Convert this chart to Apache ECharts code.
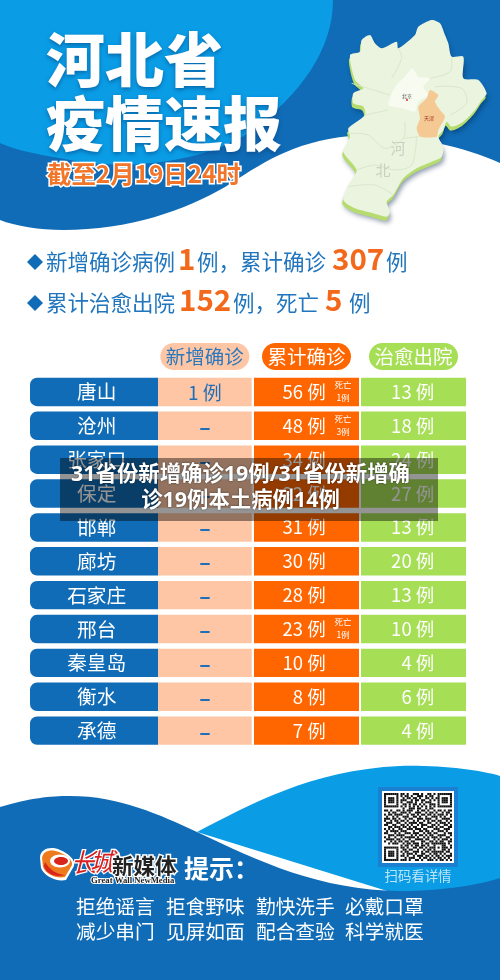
<!DOCTYPE html>
<html>
<head>
<meta charset="utf-8">
<style>
  html, body { margin: 0; padding: 0; background: #fff; }
  #chartArea { width: 500px; height: 980px; }
</style>
<script src="https://cdn.jsdelivr.net/npm/echarts@6/dist/echarts.min.js"></script>
</head>
<body>
<div id="chartArea"></div>
<script>
// table data
const cities = ['唐山', '沧州', '张家口', '保定', '邯郸', '廊坊', '石家庄', '邢台', '秦皇岛', '衡水', '承德'];
const newCases = [1, null, null, null, null, null, null, null, null, null, null];
const totalCases = [56, 48, 34, 32, 31, 30, 28, 23, 10, 8, 7];
const deaths = [1, 3, null, null, null, null, null, 1, null, null, null];
const curedCases = [13, 18, 24, 27, 13, 20, 13, 10, 4, 6, 4];
const columnNames = ['新增确诊', '累计确诊', '治愈出院'];

// summary numbers
const sumNew = 1;
const sumTotal = 307;
const sumCured = 152;
const sumDeaths = 5;

const bannerLines = ['31省份新增确诊19例/31省份新增确', '诊19例本土病例14例'];
const adviceRows = [
  ['拒绝谣言', '拒食野味', '勤快洗手', '必戴口罩'],
  ['减少串门', '见屏如面', '配合查验', '科学就医']
];

// QR code look, typed by eye from the picture
const qrRows = [
  '111111101101001110100110101111111',
  '100000101011010011101011001000001',
  '101110100101101101001101011011101',
  '101110101110010110110010101011101',
  '101110101001110100101110001011101',
  '100000100110101101010011101000001',
  '111111101010101010101010101111111',
  '000000000100111011001011000000000',
  '110100110101110010110100101101011',
  '001011001110100111001011010010110',
  '101101111001011010110110101110101',
  '010010100111001101001001110101001',
  '111011010010110011101110010011110',
  '100101101101001010010101101100101',
  '011100110010111101100110010111010',
  '110011001101010010111001101001101',
  '001101110110101100100111010110011',
  '101010011001110111011000111001110',
  '010111101110001001101101001110100',
  '110001010011101110010110110001011',
  '001110111100010101101011001111001',
  '101001001011111010010101110100110',
  '011110110100100111101100101011101',
  '100101011011011000110011010110011',
  '001011100101101110101101111111010',
  '000000001011010110110100100011001',
  '111111101101001101101011101011101',
  '100000100110110010010110100011010',
  '101110101011001110101101111110110',
  '101110100101110100110010110101001',
  '101110101101001011101101011010111',
  '100000100010111001011010101101010',
  '111111101110100110100111010110101'
];

const CJK = '"Noto Sans CJK SC", "Noto Sans", sans-serif';
const BLUE = '#106CB6';
const SKY = '#0A9DE6';
const ORANGE = '#FF6600';
const PEACH = '#FEC6A4';
const GREEN = '#A6DE55';

// map outline points come from a 3x crop, so convert them back
function mapPts(list) {
  return list.map(p => [335 + p[0] / 3, 15 + p[1] / 3]);
}
const mapOutline = mapPts([[290,15],[315,25],[330,60],[340,85],[350,125],[385,125],[385,190],[430,195],[455,235],[440,255],[420,285],[385,320],[350,335],[335,320],[325,345],[310,365],[325,395],[320,425],[290,440],[245,460],[205,490],[175,540],[155,560],[165,590],[155,605],[115,595],[60,580],[25,555],[40,510],[65,465],[25,410],[45,365],[40,340],[90,300],[85,275],[55,265],[55,235],[85,220],[60,195],[45,120],[75,110],[80,75],[105,60],[120,85],[140,100],[185,80],[190,100],[240,60],[250,35]]);
const beijingOutline = mapPts([[232,160],[250,185],[285,190],[265,215],[280,240],[250,260],[240,290],[200,280],[160,270],[170,235],[185,210],[205,190]]);
const tianjinOutline = mapPts([[285,225],[310,240],[300,260],[315,285],[330,305],[310,345],[305,365],[255,365],[245,340],[255,310],[250,275],[275,250]]);
const mapBorders = [
  [[190,100],[200,130],[170,190]],
  [[350,125],[345,170],[285,190]],
  [[300,215],[380,220],[395,265],[345,300]],
  [[50,205],[100,220],[165,240]],
  [[90,300],[160,285]],
  [[40,355],[100,360],[150,400],[205,370],[210,320]],
  [[205,370],[250,365]],
  [[65,465],[120,450],[180,465],[230,450],[245,365]],
  [[40,515],[120,510],[175,540]]
].map(mapPts);

// filled shape from a list of move/curve/line steps
echarts.graphic.registerShape('curveFill', echarts.graphic.extendShape({
  shape: { steps: [] },
  buildPath(ctx, shape) {
    shape.steps.forEach((s, i) => {
      if (i === 0) ctx.moveTo(s[0], s[1]);
      else if (s.length === 2) ctx.lineTo(s[0], s[1]);
      else ctx.bezierCurveTo(s[0], s[1], s[2], s[3], s[4], s[5]);
    });
    ctx.closePath();
  }
}));

function curve(steps, fill, z) {
  return { type: 'curveFill', shape: { steps: steps }, style: { fill: fill }, z: z || 0, silent: true };
}
function label(text, x, y, font, fill, extra) {
  return {
    type: 'text', z: 5, silent: true,
    style: Object.assign({ text: text, x: x, y: y, font: font, fill: fill, align: 'left', verticalAlign: 'middle' }, extra || {})
  };
}
function summaryWord(text, x, y) {
  return label(text, x, y, '21.5px ' + CJK, '#2176BD');
}
function summaryNum(text, x, y) {
  return label(String(text), x, y, 'bold 29.5px ' + CJK, '#F2691B');
}

const titleShadow = { textShadowColor: 'rgba(5,60,120,0.55)', textShadowBlur: 4, textShadowOffsetY: 2 };
const whiteHalo = { stroke: '#fff', strokeFirst: true };

const elements = [
  // header waves
  curve([[0,0],[500,0],[500,163],[460,145,400,132,350,136],[290,142,260,165,225,187],[185,210,130,230,63,230],[40,230,15,226,0,220]], BLUE),
  curve([[0,0],[333,0],[333,50,300,95,250,132],[200,165,120,170,70,160],[40,155,15,150,0,143]], SKY),
  // footer waves
  curve([[197,832],[250,805,310,770,400,766],[440,765,480,770,500,776],[500,885],[400,895]], SKY),
  curve([[0,807],[30,798,50,796,70,796],[120,796,160,815,197,832],[260,862,320,890,400,891],[440,891,480,885,500,878],[500,980],[0,980]], BLUE),

  // heading
  label('河北省', 46, 60, '900 59px ' + CJK, '#fff', titleShadow),
  label('疫情速报', 46, 124, '900 59px ' + CJK, '#fff', titleShadow),
  label('截至2月19日24时', 47, 174, 'bold 24.4px ' + CJK, '#F2762A', Object.assign({ lineWidth: 3 }, whiteHalo)),

  // Hebei map
  { type: 'polygon', z: 1, silent: true, shape: { points: mapOutline.map(p => [p[0] - 1, p[1] + 4]), smooth: 0.25 },
    style: { fill: '#B6DB6E', shadowBlur: 5, shadowColor: 'rgba(0,30,70,0.45)', shadowOffsetX: 2, shadowOffsetY: 2 } },
  { type: 'polygon', z: 1, silent: true, shape: { points: mapOutline, smooth: 0.25 }, style: { fill: '#EAF4DF' } }
];
mapBorders.forEach(line => {
  elements.push({ type: 'polyline', z: 1, silent: true, shape: { points: line, smooth: 0.3 }, style: { stroke: '#D9E8CB', lineWidth: 1, fill: null } });
});
elements.push(
  { type: 'polygon', z: 1, silent: true, shape: { points: beijingOutline, smooth: 0.15 }, style: { fill: '#F8FCF0' } },
  { type: 'polygon', z: 1, silent: true, shape: { points: tianjinOutline, smooth: 0.2 }, style: { fill: '#F4C993' } },
  label('北京', 407, 96, '5px ' + CJK, '#555', { align: 'center' }),
  { type: 'circle', z: 5, silent: true, shape: { cx: 407, cy: 100, r: 1 }, style: { fill: '#D8352A' } },
  label('天津', 429, 118, '5px ' + CJK, '#A8321E', { align: 'center' }),
  label('河', 398, 148, '15px ' + CJK, '#C9D2C0', { align: 'center' }),
  label('北', 383, 170, '15px ' + CJK, '#C9D2C0', { align: 'center' }),

  // summary lines
  { type: 'polygon', z: 5, silent: true, shape: { points: [[35,254],[43,262],[35,270],[27,262]] }, style: { fill: BLUE } },
  summaryWord('新增确诊病例', 46, 262),
  summaryNum(sumNew, 178, 259),
  summaryWord('例，', 197, 262),
  summaryWord('累计确诊', 240, 262),
  summaryNum(sumTotal, 332, 259),
  summaryWord('例', 386, 262),
  { type: 'polygon', z: 5, silent: true, shape: { points: [[35,295],[43,303],[35,311],[27,303]] }, style: { fill: BLUE } },
  summaryWord('累计治愈出院', 46, 303),
  summaryNum(sumCured, 179, 300),
  summaryWord('例，', 233, 303),
  summaryWord('死亡', 276, 303),
  summaryNum(sumDeaths, 325, 300),
  summaryWord('例', 349, 303),

  // QR block
  { type: 'rect', z: 3, silent: true, shape: { x: 378, y: 787, width: 80, height: 80 }, style: { fill: '#1C80D0' } },
  { type: 'rect', z: 3, silent: true, shape: { x: 382, y: 791, width: 72, height: 72 }, style: { fill: '#fff' } },
  label('扫码看详情', 418, 876, '13.4px ' + CJK, '#BDE5F8', { align: 'center' }),

  // logo swirl
  curve([[40,858],[40,848,52,846,60,850],[68,853,76,860,74,866],[66,880],[56,882,44,876,41,868]], '#fff', 4),
  curve([[42,858],[43,850,52,849,59,852],[66,855,73,860,72,865],[65,877],[56,879,46,874,43,867]], '#EE7A1E', 4),
  curve([[45,862],[50,870,56,874,65,875],[56,878,46,874,44,866]], '#D9261C', 4),
  { type: 'ellipse', z: 4, silent: true, shape: { cx: 60, cy: 861, rx: 10, ry: 6.5 }, style: { fill: '#fff' } },
  { type: 'ellipse', z: 4, silent: true, shape: { cx: 61, cy: 861, rx: 7, ry: 4 }, style: { fill: '#D9261C' } },
  label('长', 71, 862, 'italic 26px ' + CJK, '#D81E1E', Object.assign({ lineWidth: 2.5 }, whiteHalo)),
  label('城', 90, 861, 'italic 25px ' + CJK, '#D81E1E', Object.assign({ lineWidth: 2.5 }, whiteHalo)),
  label('新媒体', 112, 866, 'bold 21.5px ' + CJK, '#222', Object.assign({ lineWidth: 3 }, whiteHalo)),
  label('Great Wall NewMedia', 91, 881, 'bold 8.7px "Liberation Serif", serif', '#222', Object.assign({ lineWidth: 2 }, whiteHalo)),
  label('提示：', 184, 868, 'bold 25px ' + CJK, '#fff'),

  // banner over the table
  { type: 'rect', z: 50, silent: true, shape: { x: 60, y: 458, width: 378, height: 63 }, style: { fill: 'rgba(0,0,0,0.42)' } },
  label(bannerLines[0], 240.5, 475, 'bold 21.4px "Open Sans", ' + CJK, '#fff', { align: 'center', textShadowColor: 'rgba(0,0,0,0.6)', textShadowBlur: 2 }),
  label(bannerLines[1], 240.5, 501, 'bold 21.4px "Open Sans", ' + CJK, '#fff', { align: 'center', textShadowColor: 'rgba(0,0,0,0.6)', textShadowBlur: 2 })
);
elements[elements.length - 1].z = 51;
elements[elements.length - 2].z = 51;

// advice lines
const adviceX = [76, 166, 256, 345];
adviceRows.forEach((row, r) => {
  row.forEach((text, c) => {
    elements.push(label(text, adviceX[c], 907 + r * 25, '19.7px ' + CJK, '#fff'));
  });
});

// QR modules
qrRows.forEach((row, r) => {
  row.split('').forEach((bit, c) => {
    if (bit === '1') {
      elements.push({ type: 'rect', z: 4, silent: true, shape: { x: 384 + c * 2.06, y: 793 + r * 2.06, width: 2.06, height: 2.06 }, style: { fill: '#111' } });
    }
  });
});

// one table column: each column sits in its own grid so it can have its own width
function cellSeries(gridIndex, fill, radius, drawTexts) {
  return {
    type: 'custom',
    xAxisIndex: gridIndex,
    yAxisIndex: gridIndex,
    encode: { x: 0, y: 1 },
    data: cities.map((c, i) => [0, i]),
    z: 2,
    silent: true,
    renderItem(params, api) {
      const center = api.coord([0, api.value(1)]);
      const band = api.size([1, 1]);
      const h = 28.4;
      const left = center[0] - band[0] / 2;
      return {
        type: 'group',
        children: [{
          type: 'rect',
          shape: { x: left, y: center[1] - h / 2, width: band[0], height: h, r: radius },
          style: { fill: fill }
        }].concat(drawTexts(params.dataIndex, left, center[0], center[1]))
      };
    }
  };
}
function cellText(text, x, y, font, fill, align) {
  return { type: 'text', style: { text: text, x: x, y: y, font: font, fill: fill, align: align, verticalAlign: 'middle' } };
}

const rowFont = '18.5px ' + CJK;

const tableSeries = [
  cellSeries(0, BLUE, [7, 0, 0, 7], (i, left, cx, cy) => [
    cellText(cities[i], left + 66.7, cy, '19.7px ' + CJK, '#fff', 'center')
  ]),
  cellSeries(1, PEACH, 0, (i, left, cx, cy) => [
    newCases[i] === null
      ? cellText('–', cx, cy + 1, 'bold 21px ' + CJK, '#1E6FB8', 'center')
      : cellText(newCases[i] + ' 例', cx, cy + 1, '19px ' + CJK, '#1E6FB8', 'center')
  ]),
  cellSeries(2, ORANGE, 0, (i, left, cx, cy) => {
    const out = [cellText(totalCases[i] + ' 例', left + 71.7, cy, rowFont, '#fff', 'right')];
    if (deaths[i] !== null) {
      out.push(cellText('死亡', left + 89, cy - 7, '8.5px ' + CJK, '#fff', 'center'));
      out.push(cellText(deaths[i] + '例', left + 89, cy + 6, '8.5px ' + CJK, '#fff', 'center'));
    }
    return out;
  }),
  cellSeries(3, GREEN, 0, (i, left, cx, cy) => [
    cellText(curedCases[i] + ' 例', left + 73.3, cy, rowFont, '#fff', 'right')
  ])
];

const gridEdges = [[30, 128], [158, 93.7], [254, 105], [361, 105]];
const pillStyles = [
  { fill: PEACH, text: '#2A78BE' },
  { fill: ORANGE, text: '#fff' },
  { fill: GREEN, text: '#fff' }
];

const option = {
  animation: false,
  backgroundColor: '#fff',
  grid: gridEdges.map(g => ({ left: g[0], width: g[1], top: 375, height: 372.6 })),
  xAxis: gridEdges.map((g, i) => ({
    type: 'category',
    gridIndex: i,
    position: 'top',
    data: i === 0 ? [''] : [columnNames[i - 1]],
    axisLine: { show: false },
    axisTick: { show: false },
    axisLabel: i === 0 ? { show: false } : {
      fontFamily: 'Noto Sans CJK SC',
      fontSize: 19.5,
      lineHeight: 21,
      color: pillStyles[i - 1].text,
      backgroundColor: pillStyles[i - 1].fill,
      borderRadius: 14,
      padding: [3, 5.5],
      margin: 5
    }
  })),
  yAxis: gridEdges.map((g, i) => ({
    type: 'category',
    gridIndex: i,
    inverse: true,
    show: false,
    data: cities
  })),
  series: tableSeries,
  graphic: { elements: elements }
};

const myChart = echarts.init(document.getElementById('chartArea'), null, { renderer: 'canvas' });
myChart.setOption(option);
</script>
</body>
</html>
